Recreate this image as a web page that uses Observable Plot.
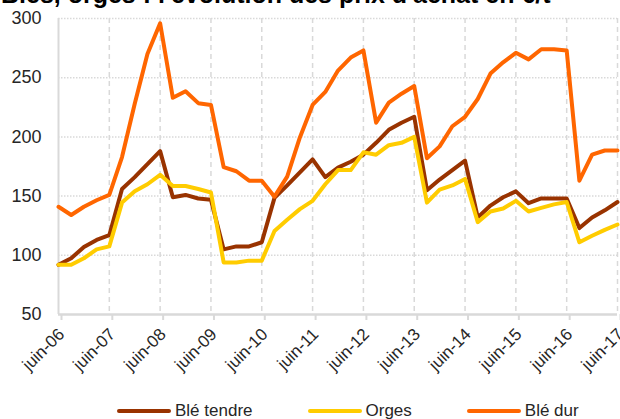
<!DOCTYPE html>
<html>
<head>
<meta charset="utf-8">
<script src="https://cdn.jsdelivr.net/npm/d3@7"></script>
<script src="https://cdn.jsdelivr.net/npm/@observablehq/plot@0.6"></script>
<style>
  html, body { margin: 0; padding: 0; background: #fff; }
  #wrap { position: relative; width: 620px; height: 419px; overflow: hidden; font-family: "Liberation Sans", Arial, sans-serif; }
  #title { position: absolute; left: 1px; top: -18px; font-size: 25px; font-weight: bold; line-height: 25px; color: #000; white-space: nowrap; }
  #chart { position: absolute; left: 0; top: 0; }
  #legend { position: absolute; left: 117px; top: 403px; display: flex; gap: 55px; font-size: 17px; color: #262626; line-height: 16px; }
  .item { display: flex; align-items: center; }
  .sw { width: 54px; height: 4px; border-radius: 2px; margin-right: 4px; }
</style>
</head>
<body>
<div id="wrap">
  <div id="chart"></div>
  <div id="title">Blés, orges : l'évolution des prix d'achat en €/t</div>
  <div id="legend"></div>
</div>
<script>
const periods = [
  "juin-06","sept-06","déc-06","mars-07",
  "juin-07","sept-07","déc-07","mars-08",
  "juin-08","sept-08","déc-08","mars-09",
  "juin-09","sept-09","déc-09","mars-10",
  "juin-10","sept-10","déc-10","mars-11",
  "juin-11","sept-11","déc-11","mars-12",
  "juin-12","sept-12","déc-12","mars-13",
  "juin-13","sept-13","déc-13","mars-14",
  "juin-14","sept-14","déc-14","mars-15",
  "juin-15","sept-15","déc-15","mars-16",
  "juin-16","sept-16","déc-16","mars-17",
  "juin-17"
];
const yearLabels = ["juin-06","juin-07","juin-08","juin-09","juin-10","juin-11","juin-12","juin-13","juin-14","juin-15","juin-16","juin-17"];
const yTicks = [50, 100, 150, 200, 250, 300];
const seriesNames = ["Blé tendre", "Orges", "Blé dur"];
const seriesColors = ["#993300", "#FFCC00", "#FF6600"];

const bleTendre = [92, 97.5, 107, 113, 117, 156, 166, 177, 188, 149, 151, 148, 147, 105, 107.5, 107.5, 111, 148.5, 159, 170, 181, 166, 174, 179, 185, 195, 206, 212, 217, 155, 164, 172, 180, 132, 142, 149, 154, 144, 148, 148, 148, 123, 132, 138, 145];
const orges = [92, 92, 97.5, 105, 107.5, 144.5, 154, 160, 168, 158.5, 158.5, 156, 153, 94, 94, 95.5, 95.5, 120.5, 130, 139, 146, 160, 172, 172, 187, 185, 193, 195, 200, 144.5, 155.5, 159, 164.5, 128, 137, 139.5, 146, 137, 140, 143, 145, 111, 116.5, 121.5, 126];
const bleDur = [141, 134, 141, 146.5, 151, 183, 228, 270, 296, 233, 238.5, 228.5, 227, 174.5, 171, 163, 163, 149.5, 166.5, 199.5, 227, 238, 256, 267, 273, 212, 229, 236.5, 243, 182, 192, 209, 217, 232, 253.5, 263, 271, 265.5, 274, 274, 273, 163, 185, 188.5, 188.5];

const seriesValues = [bleTendre, orges, bleDur];
const data = seriesNames.flatMap((name, i) => seriesValues[i].map((v, k) => ({series: name, period: periods[k], value: v})));

const grid = "#d9d9d9";
const chart = Plot.plot({
  width: 620,
  height: 385,
  marginLeft: 58,
  marginRight: 3,
  marginTop: 18,
  marginBottom: 71,
  style: {fontFamily: "'Liberation Sans', Arial, sans-serif", fontSize: "18px", color: "#262626", background: "transparent", overflow: "visible"},
  x: {type: "point", domain: periods, padding: 0, label: null},
  y: {domain: [50, 300], label: null},
  color: {domain: seriesNames, range: seriesColors},
  marks: [
    Plot.ruleY(yTicks.filter(t => t > 50), {stroke: grid, strokeWidth: 1.5, strokeDasharray: "1.5,1.5"}),
    Plot.ruleX(yearLabels.slice(1), {x: d => d, stroke: grid, strokeWidth: 1.5, strokeDasharray: "5,4"}),
    Plot.ruleX([periods[0]], {x: d => d, stroke: grid, strokeWidth: 2}),
    Plot.ruleY([50], {stroke: grid, strokeWidth: 2.5}),
    Plot.axisY({ticks: yTicks, tickSize: 0, tickPadding: 17, fontSize: 18, label: null}),
    Plot.axisX({ticks: yearLabels, tickSize: 6, tickPadding: 11, dx: 3, tickRotate: -45, stroke: grid, strokeWidth: 2, fontSize: 17, label: null}),
    Plot.line(data, {x: "period", y: "value", z: "series", stroke: "series", strokeWidth: 4, strokeLinejoin: "round", strokeLinecap: "round"})
  ]
});
document.getElementById("chart").appendChild(chart);

const legend = document.getElementById("legend");
seriesNames.forEach((name, i) => {
  const item = document.createElement("div");
  item.className = "item";
  const sw = document.createElement("div");
  sw.className = "sw";
  sw.style.background = seriesColors[i];
  const tx = document.createElement("span");
  tx.textContent = name;
  item.appendChild(sw);
  item.appendChild(tx);
  legend.appendChild(item);
});
</script>
</body>
</html>
